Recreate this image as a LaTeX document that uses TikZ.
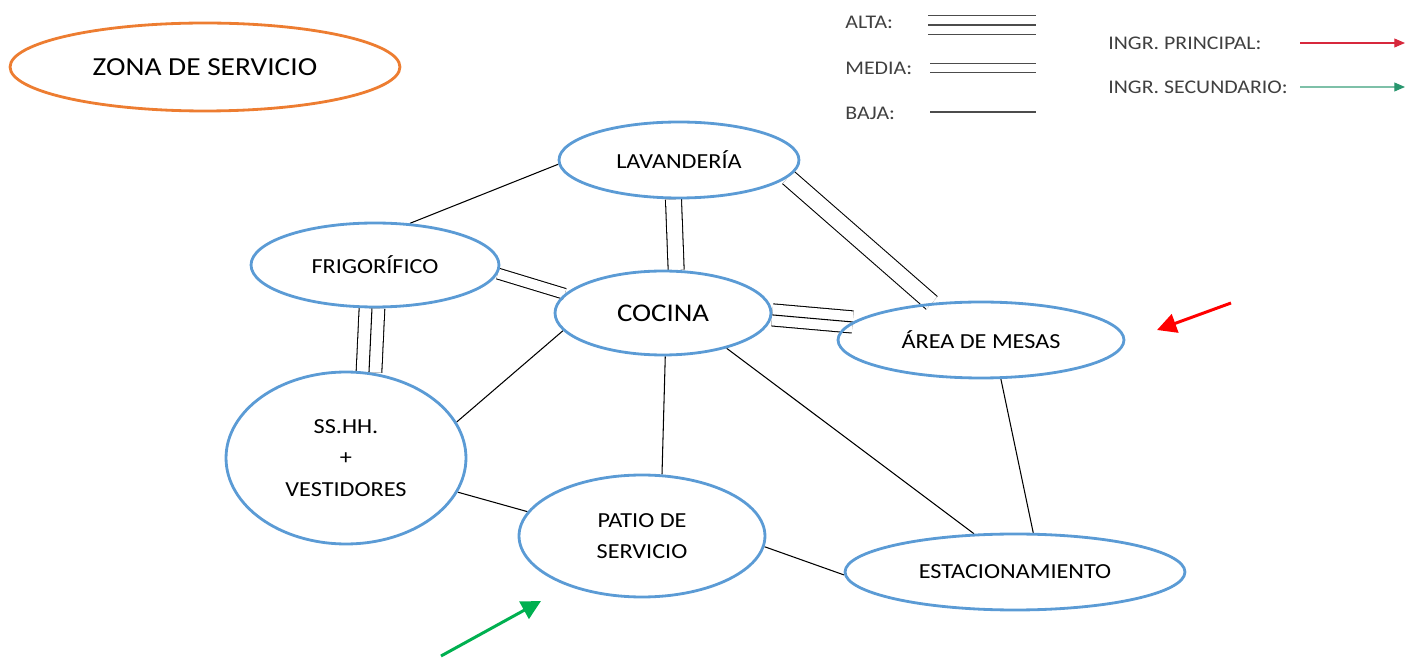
\documentclass[tikz,border=0pt]{standalone}
\usepackage{fontspec}
\setmainfont{Carlito}[FakeStretch=1.13]
\usetikzlibrary{arrows.meta,shapes.geometric,backgrounds}
\definecolor{azul}{RGB}{91,155,213}
\definecolor{naranja}{RGB}{237,125,49}
\definecolor{verde}{RGB}{0,176,80}
\definecolor{verdeleg}{RGB}{40,150,110}
\definecolor{rojoleg}{RGB}{215,40,60}

\begin{document}
\begin{tikzpicture}[x=0.02cm,y=-0.02cm]
  \tikzstyle{zona}=[ellipse,draw=azul,line width=1.6pt,inner sep=0pt,font=\fontsize{12.2}{18}\selectfont,align=center]
  \tikzstyle{media}=[double,double distance=8.5pt,line width=0.6pt]
  \tikzstyle{alta}=[double,double distance=12pt,line width=0.6pt]
  \tikzstyle{baja}=[line width=0.6pt]
  \tikzstyle{leyenda}=[anchor=west,inner sep=0pt,text=black!75,font=\fontsize{11}{12}\selectfont]
  \useasboundingbox (0,0) rectangle (1418,658);

  \node[zona,draw=naranja,minimum width=7.8cm,minimum height=1.76cm,font=\fontsize{14.8}{16}\selectfont] (zon) at (205,67) {ZONA DE SERVICIO};

  \node[zona,minimum width=4.8cm,minimum height=1.52cm] (lav) at (679,160) {LAVANDERÍA};
  \node[zona,minimum width=4.96cm,minimum height=1.68cm] (frig) at (375,265) {FRIGORÍFICO};
  \node[zona,minimum width=4.32cm,minimum height=1.68cm,font=\fontsize{14.5}{18}\selectfont] (coc) at (663,313) {COCINA};
  \node[zona,minimum width=5.72cm,minimum height=1.52cm] (mesas) at (981,340) {ÁREA DE MESAS};
  \node[zona,minimum width=4.8cm,minimum height=3.44cm] (sshh) at (346,458) {SS.HH.\\+\\VESTIDORES};
  \node[zona,minimum width=4.92cm,minimum height=2.44cm] (patio) at (642,536) {PATIO DE\\SERVICIO};
  \node[zona,minimum width=6.8cm,minimum height=1.52cm] (estac) at (1015,572) {ESTACIONAMIENTO};

  \begin{scope}[on background layer]
    % relaciones altas
    \draw[alta] (coc.359.5) -- (mesas.172);
    \draw[baja] (coc.359.5) -- (mesas.172);
    \draw[alta,double distance=14pt] (frig.266) -- (sshh.75);
    \draw[baja] (frig.266) -- (sshh.75);
    % relaciones medias
    \draw[media] (lav.262.5) -- (coc.73.7);
    \draw[media,double distance=9pt] (lav.351) -- (mesas.143.2);
    \draw[media,double distance=5.6pt] (frig.356.2) -- (coc.169.3);
    % relaciones bajas
    \draw[baja] (lav.182) -- (frig.50);
    \draw[baja] (coc.190.6) -- (sshh.18.3);
    \draw[baja] (coc.273) -- (patio.72.8);
    \draw[baja] (coc.331.5) -- (estac.137.8);
    \draw[baja] (mesas.297.8) -- (estac.65.3);
    \draw[baja] (sshh.343.9) -- (patio.168.4);
    \draw[baja] (patio.355.4) -- (estac.181);
  \end{scope}

  % ingresos
  \coordinate (pr0) at (1231,303);
  \coordinate (pr1) at (1157,330);
  \coordinate (se0) at (441,656);
  \coordinate (se1) at (541,601);
  \draw[red,line width=1.7pt,-{Triangle[length=11pt,width=11pt]}] (pr0) -- (pr1);
  \draw[verde,line width=1.7pt,-{Triangle[length=11pt,width=11pt]}] (se0) -- (se1);

  % leyenda
  \node[leyenda] (lalta) at (845,22) {ALTA:};
  \node[leyenda] (lmedia) at (845,68) {MEDIA:};
  \node[leyenda] (lbaja) at (845,113) {BAJA:};
  \node[leyenda] (lprin) at (1108,43) {INGR. PRINCIPAL:};
  \node[leyenda] (lsec) at (1108,87) {INGR. SECUNDARIO:};
  \coordinate (a0) at (928,25);   \coordinate (a1) at (1036,25);
  \coordinate (m0) at (930,68);   \coordinate (m1) at (1036,68);
  \coordinate (b0) at (930,112);  \coordinate (b1) at (1036,112);
  \coordinate (p0) at (1300,43);  \coordinate (p1) at (1405,43);
  \coordinate (s0) at (1300,87);  \coordinate (s1) at (1405,87);
  \draw[alta,double distance=10pt,black!70] (a0) -- (a1);
  \draw[baja,black!70] (a0) -- (a1);
  \draw[media,double distance=5pt,black!70] (m0) -- (m1);
  \draw[baja,black!70] (b0) -- (b1);
  \draw[rojoleg,line width=0.6pt,-{Triangle[length=6pt,width=5pt]}] (p0) -- (p1);
  \draw[verdeleg!60,line width=0.6pt,-{Triangle[length=6pt,width=5pt,color=verdeleg]}] (s0) -- (s1);
\end{tikzpicture}
\end{document}
